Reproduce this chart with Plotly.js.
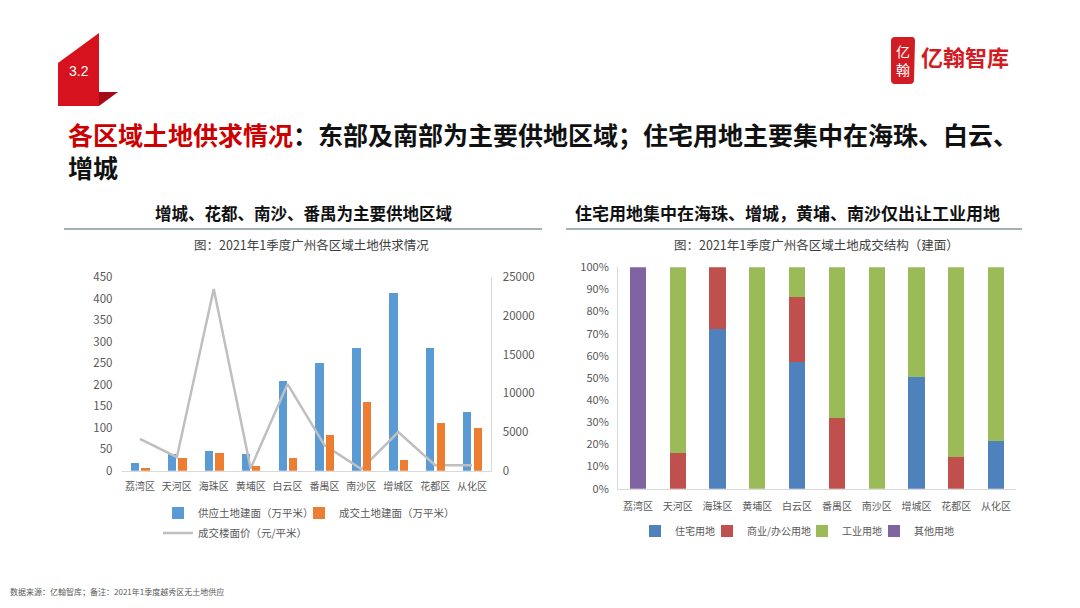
<!DOCTYPE html>
<html>
<head>
<meta charset="utf-8">
<script src="https://cdn.plot.ly/plotly-3.0.1.min.js"></script>
<style>
  html, body { margin: 0; padding: 0; background: #ffffff; }
  #chart { width: 1080px; height: 608px; }
</style>
</head>
<body>
<div id="chart"></div>
<script>
// ---------- data ----------
const categories = ['荔湾区', '天河区', '海珠区', '黄埔区', '白云区', '番禺区', '南沙区', '增城区', '花都区', '从化区'];
// left chart: supply / deal floor area (万平米), floor price (元/平米)
const supplyArea = [17, 40, 46, 40, 209, 250, 286, 414, 286, 137];
const dealArea = [6, 29, 42, 12, 29, 82, 159, 25, 110, 100];
const floorPrice = [4100, 1750, 23500, 300, 11200, 3300, 200, 5000, 700, 700];
// right chart: structure of deals (share of floor area)
const residentialShare = [0, 0, 0.723, 0, 0.572, 0, 0, 0.506, 0, 0.217];
const commercialShare = [0, 0.16, 0.277, 0, 0.295, 0.318, 0, 0, 0.142, 0];
const industrialShare = [0, 0.84, 0, 1, 0.133, 0.682, 1, 0.494, 0.858, 0.783];
const otherShare = [1, 0, 0, 0, 0, 0, 0, 0, 0, 0];

const leftYTicks = [0, 50, 100, 150, 200, 250, 300, 350, 400, 450];
const rightYTicks = [0, 5000, 10000, 15000, 20000, 25000];

// ---------- helpers ----------
const W = 1080, H = 608;
const px = x => x / W;
const py = y => 1 - y / H;
const CJK = '"Noto Sans CJK SC", "Microsoft YaHei", sans-serif';
const tickColor = '#595959';

const traces = [
  {
    type: 'bar', name: '供应土地建面（万平米）', x: categories, y: supplyArea,
    xaxis: 'x', yaxis: 'y', width: 0.225, offset: -0.245,
    marker: { color: '#5b9bd5' }, legend: 'legend', hoverinfo: 'x+y'
  },
  {
    type: 'bar', name: '成交土地建面（万平米）', x: categories, y: dealArea,
    xaxis: 'x3', yaxis: 'y', width: 0.225, offset: 0.04,
    marker: { color: '#ed7d31' }, legend: 'legend4', hoverinfo: 'x+y'
  },
  {
    type: 'scatter', mode: 'lines', name: '成交楼面价（元/平米）', x: categories, y: floorPrice,
    xaxis: 'x', yaxis: 'y2', line: { color: '#bfbfbf', width: 2.5 },
    legend: 'legend3', hoverinfo: 'x+y'
  },
  {
    type: 'bar', name: '住宅用地', x: categories, y: residentialShare,
    xaxis: 'x2', yaxis: 'y3', width: 0.41, marker: { color: '#4f81bd' }, legend: 'legend2'
  },
  {
    type: 'bar', name: '商业/办公用地', x: categories, y: commercialShare,
    xaxis: 'x2', yaxis: 'y3', width: 0.41, marker: { color: '#c0504d' }, legend: 'legend5'
  },
  {
    type: 'bar', name: '工业用地', x: categories, y: industrialShare,
    xaxis: 'x2', yaxis: 'y3', width: 0.41, marker: { color: '#9bbb59' }, legend: 'legend6'
  },
  {
    type: 'bar', name: '其他用地', x: categories, y: otherShare,
    xaxis: 'x2', yaxis: 'y3', width: 0.41, marker: { color: '#8064a2' }, legend: 'legend7'
  }
];

const catAxisBase = {
  type: 'category', showgrid: false, zeroline: false, ticks: '',
  showline: true, linecolor: '#d9d9d9', linewidth: 1,
  tickfont: { family: CJK, size: 10, color: tickColor },
  range: [-0.5, 9.5], fixedrange: true
};

const legendBase = {
  orientation: 'h', bgcolor: 'rgba(0,0,0,0)', xanchor: 'left', yanchor: 'middle',
  font: { family: CJK, size: 10.5, color: tickColor }, traceorder: 'normal',
  itemclick: false, itemdoubleclick: false
};
const mkLegend = (textLeft, yMid, size) => Object.assign({}, legendBase, {
  x: px(textLeft - 40), y: py(yMid),
  font: { family: CJK, size: size || 10.5, color: tickColor }
});

const layout = {
  width: W, height: H,
  margin: { l: 0, r: 0, t: 0, b: 0 },
  paper_bgcolor: '#ffffff', plot_bgcolor: 'rgba(0,0,0,0)',
  barmode: 'stack',
  showlegend: true,
  font: { family: CJK, color: '#404040' },
  xaxis: Object.assign({}, catAxisBase, {
    domain: [px(121.5), px(490.5)], anchor: 'y', ticklabelstandoff: 6
  }),
  xaxis3: Object.assign({}, catAxisBase, {
    overlaying: 'x', anchor: 'y', visible: false
  }),
  yaxis: {
    domain: [py(470.7), py(277.3)], range: [0, 450], tickvals: leftYTicks,
    showgrid: false, zeroline: false, showline: false, ticks: '',
    tickfont: { family: CJK, size: 11.5, color: tickColor }, ticklabelstandoff: 8,
    anchor: 'x', fixedrange: true
  },
  yaxis2: {
    overlaying: 'y', side: 'right', anchor: 'x', range: [0, 25000], tickvals: rightYTicks,
    tickformat: 'd',
    showgrid: false, zeroline: false, showline: true, linecolor: '#d9d9d9', ticks: '',
    tickfont: { family: CJK, size: 11.5, color: tickColor }, ticklabelstandoff: 9,
    fixedrange: true
  },
  xaxis2: Object.assign({}, catAxisBase, {
    domain: [px(618), px(1016)], anchor: 'y3', ticklabelstandoff: 8
  }),
  yaxis3: {
    domain: [py(488.7), py(267.3)], range: [0, 1], dtick: 0.1, tickformat: '.0%',
    showgrid: false, zeroline: false, showline: true, linecolor: '#d9d9d9', ticks: '',
    tickfont: { family: CJK, size: 11, color: tickColor }, ticklabelstandoff: 6,
    anchor: 'x2', fixedrange: true
  },
  // left chart legends
  legend: mkLegend(198, 513),
  legend4: mkLegend(339, 513),
  legend3: mkLegend(198, 533),
  // right chart legends
  legend2: mkLegend(675, 531, 10),
  legend5: mkLegend(747, 531, 10),
  legend6: mkLegend(842, 531, 10),
  legend7: mkLegend(914, 531, 10),
  shapes: [
    // section badge (top-left)
    { type: 'path', xref: 'paper', yref: 'paper',
      path: `M${px(58)},${py(63)} L${px(99)},${py(33)} L${px(99)},${py(106)} L${px(58)},${py(106)} Z`,
      fillcolor: '#d5121e', line: { width: 0 } },
    { type: 'path', xref: 'paper', yref: 'paper',
      path: `M${px(99)},${py(92)} L${px(118)},${py(92)} L${px(99)},${py(106)} Z`,
      fillcolor: '#a50d16', line: { width: 0 } },
    // brand seal (top-right)
    { type: 'path', xref: 'paper', yref: 'paper',
      path: `M${px(895)},${py(37)} L${px(912)},${py(37)} Q${px(915)},${py(37)} ${px(915)},${py(41)} L${px(914)},${py(80)} Q${px(914)},${py(84)} ${px(910)},${py(84)} L${px(895)},${py(84)} Q${px(891)},${py(84)} ${px(891)},${py(80)} L${px(891)},${py(41)} Q${px(891)},${py(37)} ${px(895)},${py(37)} Z`,
      fillcolor: '#d21c24', line: { width: 0 } },
    // separators under chart titles
    { type: 'line', xref: 'paper', yref: 'paper', x0: px(64), x1: px(542), y0: py(229), y1: py(229),
      line: { color: '#a3b1b3', width: 2 } },
    { type: 'line', xref: 'paper', yref: 'paper', x0: px(566), x1: px(1022), y0: py(229), y1: py(229),
      line: { color: '#a3b1b3', width: 2 } }
  ],
  annotations: [
    { xref: 'paper', yref: 'paper', x: px(79), y: py(71), xanchor: 'center', yanchor: 'middle',
      text: '3.2', showarrow: false,
      font: { family: 'Liberation Sans, Arial, sans-serif', size: 14, color: '#ffffff' } },
    { xref: 'paper', yref: 'paper', x: px(903), y: py(60.5), xanchor: 'center', yanchor: 'middle',
      text: '亿<br>翰', showarrow: false, font: { family: CJK, size: 14, color: '#ffffff' } },
    { xref: 'paper', yref: 'paper', x: px(919), y: py(56), xanchor: 'left', yanchor: 'middle',
      text: '<b>亿翰智库</b>', showarrow: false, font: { family: CJK, size: 22, color: '#d21c24' } },
    // main title (two lines)
    { xref: 'paper', yref: 'paper', x: px(66), y: py(151), xanchor: 'left', yanchor: 'middle', align: 'left',
      showarrow: false,
      text: '<b><span style="color:#cc0000">各区域土地供求情况</span>：东部及南部为主要供地区域；住宅用地主要集中在海珠、白云、<br>增城</b>',
      font: { family: CJK, size: 25, color: '#111111' } },
    // chart titles
    { xref: 'paper', yref: 'paper', x: px(304), y: py(213), xanchor: 'center', yanchor: 'middle', showarrow: false,
      text: '<b>增城、花都、南沙、番禺为主要供地区域</b>', font: { family: CJK, size: 16.5, color: '#111111' } },
    { xref: 'paper', yref: 'paper', x: px(312), y: py(244), xanchor: 'center', yanchor: 'middle', showarrow: false,
      text: '图：2021年1季度广州各区域土地供求情况', font: { family: CJK, size: 12.5, color: '#404040' } },
    { xref: 'paper', yref: 'paper', x: px(787), y: py(213), xanchor: 'center', yanchor: 'middle', showarrow: false,
      text: '<b>住宅用地集中在海珠、增城，黄埔、南沙仅出让工业用地</b>', font: { family: CJK, size: 17, color: '#111111' } },
    { xref: 'paper', yref: 'paper', x: px(816), y: py(244), xanchor: 'center', yanchor: 'middle', showarrow: false,
      text: '图：2021年1季度广州各区域土地成交结构（建面）', font: { family: CJK, size: 12.5, color: '#404040' } },
    // footer
    { xref: 'paper', yref: 'paper', x: px(8), y: py(591), xanchor: 'left', yanchor: 'middle', showarrow: false,
      text: '数据来源：亿翰智库；备注：2021年1季度越秀区无土地供应', font: { family: CJK, size: 8, color: '#595959' } }
  ]
};

Plotly.newPlot('chart', traces, layout, { displayModeBar: false, staticPlot: false, responsive: false });
</script>
</body>
</html>
